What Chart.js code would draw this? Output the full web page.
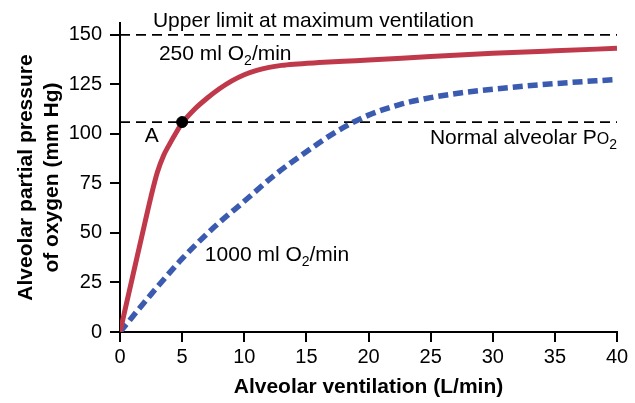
<!DOCTYPE html>
<html>
<head>
  <meta charset="utf-8">
  <title>Alveolar ventilation vs alveolar PO2</title>
  <style>
    body { margin: 0; background: #fff; }
  </style>
</head>
<body>
<script src="https://cdn.jsdelivr.net/npm/chart.js@4.4.1/dist/chart.umd.min.js"></script>
<canvas id="myChart" width="635" height="403"></canvas>
<script>
  // values
  var redX = [0, 1, 2, 2.5, 3, 3.5, 4, 4.5, 5, 6, 7, 8, 9, 10, 11, 12, 13, 14, 16, 18, 20, 25, 30, 35, 40];
  var redY = [0, 27.6, 55, 68.5, 80.5, 89, 95, 100.5, 105.5, 112.5, 118, 122.8, 126.8, 129.9, 132.1, 133.6, 134.6, 135.2, 136, 136.7, 137.3, 139.1, 140.7, 142, 143.2];

  var blueX = [0, 2.5, 5, 7.5, 10, 12.5, 15, 17.5, 20, 22.5, 25, 27.5, 30, 35, 40];
  var blueY = [0, 19, 37, 52.5, 66, 79.5, 91, 101.5, 109.5, 114.8, 118.3, 120.8, 122.6, 125.4, 127.5];

  var upperLimit = 150;
  var normalPO2 = 106;
  var pointA = {x: 5, y: 106};

  var xTicks = [0, 5, 10, 15, 20, 25, 30, 35, 40];
  var yTicks = [0, 25, 50, 75, 100, 125, 150];

  function toPoints(xs, ys) {
    var pts = [];
    for (var i = 0; i < xs.length; i++) {
      pts.push({x: xs[i], y: ys[i]});
    }
    return pts;
  }

  var FONT = "'Liberation Sans', Arial, Helvetica, sans-serif";

  // draws text made of pieces, some of them subscript or small
  function drawRich(ctx, x, y, parts, align) {
    var total = 0;
    parts.forEach(function(p) {
      ctx.font = (p.size || 21) + 'px ' + FONT;
      p.w = ctx.measureText(p.t).width;
      total += p.w;
    });
    var cx = align === 'right' ? x - total : x;
    parts.forEach(function(p) {
      ctx.font = (p.size || 21) + 'px ' + FONT;
      ctx.fillText(p.t, cx, y + (p.dy || 0));
      cx += p.w;
    });
  }

  var labelsPlugin = {
    id: 'labels',
    afterDraw: function(chart) {
      var ctx = chart.ctx;
      var xs = chart.scales.x, ys = chart.scales.y;
      ctx.save();
      ctx.fillStyle = '#000';
      ctx.textBaseline = 'alphabetic';
      ctx.textAlign = 'left';
      drawRich(ctx, xs.getPixelForValue(2.65), ys.getPixelForValue(154), [
        {t: 'Upper limit at maximum ventilation'}
      ]);
      drawRich(ctx, xs.getPixelForValue(3.13), ys.getPixelForValue(137.2), [
        {t: '250 ml O'}, {t: '2', size: 14, dy: 5}, {t: '/min'}
      ]);
      drawRich(ctx, xs.getPixelForValue(2.0), ys.getPixelForValue(96), [
        {t: 'A'}
      ]);
      drawRich(ctx, xs.getPixelForValue(40), ys.getPixelForValue(94.8), [
        {t: 'Normal alveolar P'}, {t: 'O', size: 16}, {t: '2', size: 14, dy: 5}
      ], 'right');
      drawRich(ctx, xs.getPixelForValue(6.83), ys.getPixelForValue(35.9), [
        {t: '1000 ml O'}, {t: '2', size: 14, dy: 5}, {t: '/min'}
      ]);
      ctx.restore();
    }
  };

  var ctx = document.getElementById('myChart');
  var myChart = new Chart(ctx, {
    type: 'scatter',
    data: {
      datasets: [
        {
          label: 'A',
          data: [pointA],
          pointRadius: 5.5,
          pointBackgroundColor: '#000',
          pointBorderColor: '#000',
          showLine: false
        },
        {
          label: '250 ml O2/min',
          data: toPoints(redX, redY),
          showLine: true,
          borderColor: '#c0394b',
          borderWidth: 5,
          pointRadius: 0,
          cubicInterpolationMode: 'monotone'
        },
        {
          label: '1000 ml O2/min',
          data: toPoints(blueX, blueY),
          showLine: true,
          borderColor: '#3a5bb0',
          borderWidth: 5.5,
          borderDash: [10, 5],
          borderCapStyle: 'butt',
          pointRadius: 0,
          cubicInterpolationMode: 'monotone'
        },
        {
          label: 'Normal alveolar PO2',
          data: [{x: 0, y: normalPO2}, {x: 40, y: normalPO2}],
          showLine: true,
          borderColor: '#000',
          borderWidth: 1.8,
          borderDash: [10, 6],
          pointRadius: 0
        },
        {
          label: 'Upper limit',
          data: [{x: 0, y: upperLimit}, {x: 40, y: upperLimit}],
          showLine: true,
          borderColor: '#000',
          borderWidth: 1.8,
          borderDash: [10, 6],
          pointRadius: 0
        }
      ]
    },
    options: {
      responsive: false,
      animation: false,
      layout: { padding: {left: 0, right: 18, top: 23, bottom: 0} },
      plugins: {
        legend: { display: false },
        tooltip: { enabled: false }
      },
      scales: {
        x: {
          type: 'linear',
          min: 0,
          max: 40,
          afterBuildTicks: function(scale) {
            scale.ticks = xTicks.map(function(v) { return {value: v}; });
          },
          afterFit: function(scale) { scale.height = 71; },
          grid: { drawOnChartArea: false, color: '#000', lineWidth: 2, tickLength: 10 },
          border: { color: '#000', width: 2 },
          ticks: { color: '#000', font: {family: FONT, size: 20}, padding: 3, maxRotation: 0 },
          title: {
            display: true,
            text: 'Alveolar ventilation (L/min)',
            color: '#000',
            font: {family: FONT, size: 21, weight: 'bold'},
            padding: {top: 0, bottom: 3}
          }
        },
        y: {
          type: 'linear',
          min: 0,
          max: 156,
          afterBuildTicks: function(scale) {
            scale.ticks = yTicks.map(function(v) { return {value: v}; });
          },
          afterFit: function(scale) { scale.width = 120; },
          grid: { drawOnChartArea: false, color: '#000', lineWidth: 2, tickLength: 10 },
          border: { color: '#000', width: 2 },
          ticks: { color: '#000', font: {family: FONT, size: 20}, padding: 8 },
          title: {
            display: true,
            text: ['Alveolar partial pressure', 'of oxygen (mm Hg)'],
            color: '#000',
            font: {family: FONT, size: 21, weight: 'bold'},
            padding: {top: 14, bottom: 0}
          }
        }
      }
    },
    plugins: [labelsPlugin]
  });
</script>
</body>
</html>
